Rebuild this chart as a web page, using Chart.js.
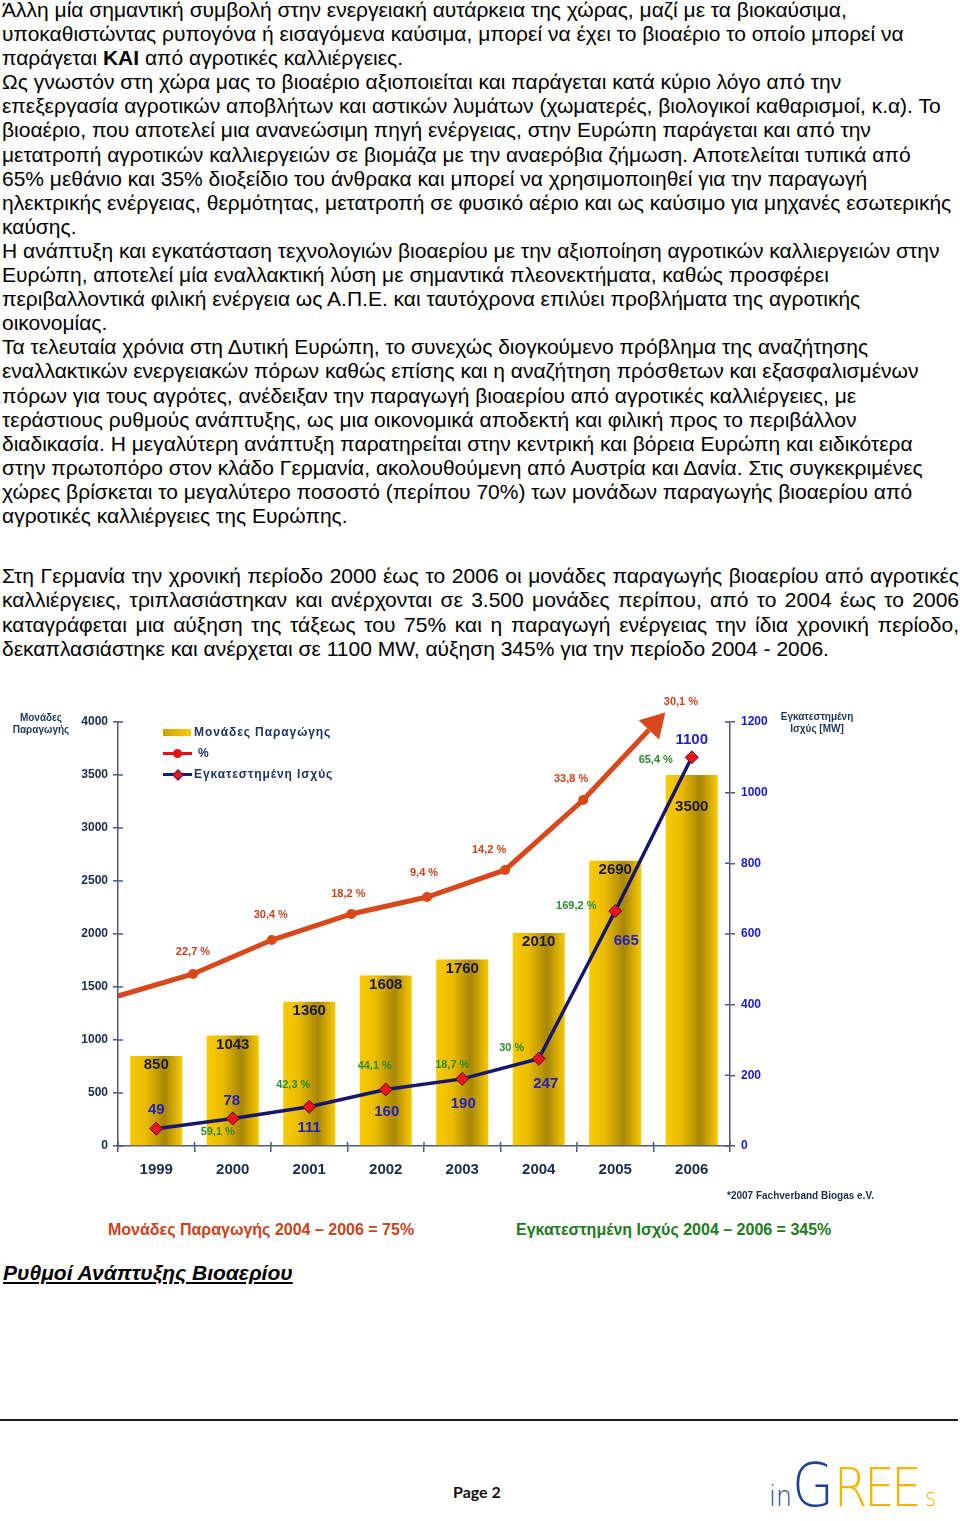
<!DOCTYPE html>
<html lang="el">
<head>
<meta charset="utf-8">
<title>Ρυθμοί Ανάπτυξης Βιοαερίου</title>
<script src="https://cdn.jsdelivr.net/npm/chart.js@4.4.1/dist/chart.umd.min.js"></script>
<style>
  html, body { margin: 0; padding: 0; background: #fff; }
  body { width: 960px; height: 1521px; position: relative; overflow: hidden;
         font-family: "Liberation Sans", Arial, sans-serif; color: #000; }
  .abs { position: absolute; white-space: nowrap; }
  #text1 { left: 2px; top: -2px; font-size: 21px; line-height: 24.1px; }
  #text2 { position: absolute; left: 2px; top: 564px; width: 957px; font-size: 21px; line-height: 24.3px; }
  #text2 div { white-space: nowrap; text-align: justify; text-align-last: justify; }
  #text2 div:last-child { text-align-last: left; }
  #chart { position: absolute; left: 0; top: 690px; width: 960px; height: 520px; }
  .axis-title { font-size: 10px; font-weight: bold; color: #1c3458; text-align: center; line-height: 12px; }
  .lg-txt { font-size: 12px; font-weight: bold; color: #1c3462; letter-spacing: 0.9px; line-height: 14px; }
  .narrow { font-family: "Liberation Sans Narrow", "Arial Narrow", "Liberation Sans", sans-serif; font-weight: bold; }
</style>
</head>
<body>

<div id="text1" class="abs">
<div>Άλλη μία σημαντική συμβολή στην ενεργειακή αυτάρκεια της χώρας, μαζί με τα βιοκαύσιμα,</div>
<div>υποκαθιστώντας ρυπογόνα ή εισαγόμενα καύσιμα, μπορεί να έχει το βιοαέριο το οποίο μπορεί να</div>
<div>παράγεται <b>ΚΑΙ</b> από αγροτικές καλλιέργειες.</div>
<div>Ως γνωστόν στη χώρα μας το βιοαέριο αξιοποιείται και παράγεται κατά κύριο λόγο από την</div>
<div>επεξεργασία αγροτικών αποβλήτων και αστικών λυμάτων (χωματερές, βιολογικοί καθαρισμοί, κ.α). Το</div>
<div>βιοαέριο, που αποτελεί μια ανανεώσιμη πηγή ενέργειας, στην Ευρώπη παράγεται και από την</div>
<div>μετατροπή αγροτικών καλλιεργειών σε βιομάζα με την αναερόβια ζήμωση. Αποτελείται τυπικά από</div>
<div>65% μεθάνιο και 35% διοξείδιο του άνθρακα και μπορεί να χρησιμοποιηθεί για την παραγωγή</div>
<div>ηλεκτρικής ενέργειας, θερμότητας, μετατροπή σε φυσικό αέριο και ως καύσιμο για μηχανές εσωτερικής</div>
<div>καύσης.</div>
<div>Η ανάπτυξη και εγκατάσταση τεχνολογιών βιοαερίου με την αξιοποίηση αγροτικών καλλιεργειών στην</div>
<div>Ευρώπη, αποτελεί μία εναλλακτική λύση με σημαντικά πλεονεκτήματα, καθώς προσφέρει</div>
<div>περιβαλλοντικά φιλική ενέργεια ως Α.Π.Ε. και ταυτόχρονα επιλύει προβλήματα της αγροτικής</div>
<div>οικονομίας.</div>
<div>Τα τελευταία χρόνια στη Δυτική Ευρώπη, το συνεχώς διογκούμενο πρόβλημα της αναζήτησης</div>
<div>εναλλακτικών ενεργειακών πόρων καθώς επίσης και η αναζήτηση πρόσθετων και εξασφαλισμένων</div>
<div>πόρων για τους αγρότες, ανέδειξαν την παραγωγή βιοαερίου από αγροτικές καλλιέργειες, με</div>
<div>τεράστιους ρυθμούς ανάπτυξης, ως μια οικονομικά αποδεκτή και φιλική προς το περιβάλλον</div>
<div>διαδικασία. Η μεγαλύτερη ανάπτυξη παρατηρείται στην κεντρική και βόρεια Ευρώπη και ειδικότερα</div>
<div>στην πρωτοπόρο στον κλάδο Γερμανία, ακολουθούμενη από Αυστρία και Δανία. Στις συγκεκριμένες</div>
<div>χώρες βρίσκεται το μεγαλύτερο ποσοστό (περίπου 70%) των μονάδων παραγωγής βιοαερίου από</div>
<div>αγροτικές καλλιέργειες της Ευρώπης.</div>
</div>

<div id="text2">
<div>Στη Γερμανία την χρονική περίοδο 2000 έως το 2006 οι μονάδες παραγωγής βιοαερίου από αγροτικές</div>
<div>καλλιέργειες, τριπλασιάστηκαν και ανέρχονται σε 3.500 μονάδες περίπου, από το 2004 έως το 2006</div>
<div>καταγράφεται μια αύξηση της τάξεως του 75% και η παραγωγή ενέργειας την ίδια χρονική περίοδο,</div>
<div>δεκαπλασιάστηκε και ανέρχεται σε 1100 MW, αύξηση 345% για την περίοδο 2004 - 2006.</div>
</div>

<canvas id="chart" width="960" height="520"></canvas>

<!-- axis titles -->
<div class="abs axis-title" style="left:10px; top:712px; width:62px;">Μονάδες<br>Παραγωγής</div>
<div class="abs axis-title" style="left:772px; top:711px; width:90px;">Εγκατεστημένη<br>Ισχύς [MW]</div>

<!-- legend -->
<div class="abs" style="left:163px; top:729px; width:28px; height:7px; background:linear-gradient(to right,#c9a000,#e2b800 50%,#f6cc10);"></div>
<div class="abs lg-txt" style="left:194px; top:725px;">Μονάδες Παραγώγης</div>
<div class="abs" style="left:163px; top:752px; width:29px; height:3px; background:#e41212;"></div>
<div class="abs" style="left:173px; top:749px; width:9px; height:9px; border-radius:50%; background:#e41212;"></div>
<div class="abs lg-txt" style="left:198px; top:746px;">%</div>
<div class="abs" style="left:163px; top:773px; width:29px; height:3px; background:#1a1a70;"></div>
<div class="abs" style="left:174px; top:771px; width:6px; height:6px; transform:rotate(45deg); background:#e01830; border:1px solid #701030;"></div>
<div class="abs lg-txt" style="left:194px; top:767px;">Εγκατεστημένη Ισχύς</div>

<div class="abs" style="left:727px; top:1190px; font-size:10px; font-weight:bold; color:#1c2b4a;">*2007 Fachverband Biogas e.V.</div>

<div class="abs narrow" style="left:108px; top:1221px; font-size:16px; color:#c8441c;">Μονάδες Παραγωγής 2004 – 2006 = 75%</div>
<div class="abs narrow" style="left:516px; top:1221px; font-size:16px; color:#1e7a1e;">Εγκατεστημένη Ισχύς 2004 – 2006 = 345%</div>
<div class="abs narrow" style="left:3px; top:1261px; font-size:21px; font-style:italic; text-decoration:underline; color:#000;">Ρυθμοί Ανάπτυξης Βιοαερίου</div>

<div class="abs" style="left:0; top:1419px; width:958px; height:2px; background:#1e1e1e;"></div>
<div class="abs" style="left:453px; top:1482px; font-family:Lato, 'Open Sans', sans-serif; font-weight:bold; font-size:16px; color:#111;">Page 2</div>

<div class="abs" style="left:769px; top:1452px; font-family:'DejaVu Sans', sans-serif; font-weight:200; line-height:66px; transform:scaleX(0.9); transform-origin:left top;">
  <span style="font-size:28px; color:#1d3f98;">in</span><span style="font-size:60px; color:#1d3f98;">G</span><span style="font-size:54px; color:#f2b705; letter-spacing:-4px;">REE</span><span style="font-size:24px; color:#f2b705;"> s</span>
</div>

<script>
const years = ['1999', '2000', '2001', '2002', '2003', '2004', '2005', '2006'];
const productionUnits = [850, 1043, 1360, 1608, 1760, 2010, 2690, 3500];
const installedMW = [49, 78, 111, 160, 190, 247, 665, 1100];
const unitsGrowthPct = [22.7, 30.4, 18.2, 9.4, 14.2, 33.8, 30.1];
const capacityGrowthPct = [59.1, 42.3, 44.1, 18.7, 30, 169.2, 65.4];
const unitTicks = [0, 500, 1000, 1500, 2000, 2500, 3000, 3500, 4000];
const mwTicks = [0, 200, 400, 600, 800, 1000, 1200];
// the red growth arrow
// (x in category steps, y in units of the left axis)
const arrowX = [-0.5, 0.48, 1.51, 2.55, 3.54, 4.56, 5.58, 6.44];
const arrowY = [1415, 1623, 1943, 2189, 2349, 2604, 3264, 3925];

Chart.defaults.font.family = '"Liberation Sans", Arial, sans-serif';
const axisColor = '#4a5a78';
const fontStack = '"Liberation Sans", Arial, sans-serif';

// label offsets from their points, px
const mwLabelOffsets = [[0, -19], [-1, -18], [0, 21], [1, 22], [1, 25], [7, 25], [11, 30], [0, -17]];
const mwPctOffsets = [[-15, 14], [-16, -22], [-11, -23], [-10, -14], [-27, -11], [-39, -5], [-36, 3]];
const unitPctOffsets = [[0, -22], [-1, -25], [-3, -20], [-3, -24], [-16, -20], [-12, -21], [32, -28]];

const fmtPct = v => String(v).replace('.', ',') + ' %';

function barGradient(ctx) {
  const chart = ctx.chart;
  const xs = chart.scales.x;
  const fallback = '#e0b400';
  if (!xs || ctx.type !== 'data') return fallback;
  const cx = xs.getPixelForValue(ctx.dataIndex);
  const half = xs.width / years.length * 0.68 / 2;
  if (!isFinite(cx) || !isFinite(half) || half <= 0) return fallback;
  const g = chart.ctx.createLinearGradient(cx - half, 0, cx + half, 0);
  g.addColorStop(0, '#f8cb00');
  g.addColorStop(0.3, '#ebbc00');
  g.addColorStop(0.66, '#a88608');
  g.addColorStop(0.9, '#e2b600');
  g.addColorStop(1, '#f7c900');
  return g;
}

const innerTicks = {
  id: 'innerTicks',
  afterDraw(chart) {
    const { ctx, chartArea, scales } = chart;
    ctx.save();
    ctx.strokeStyle = axisColor;
    ctx.lineWidth = 1.5;
    ctx.beginPath();
    scales.y.ticks.forEach(t => {
      const py = scales.y.getPixelForValue(t.value);
      ctx.moveTo(chartArea.left, py); ctx.lineTo(chartArea.left + 5, py);
    });
    scales.y2.ticks.forEach(t => {
      const py = scales.y2.getPixelForValue(t.value);
      ctx.moveTo(chartArea.right, py); ctx.lineTo(chartArea.right - 5, py);
    });
    for (let i = 0; i <= years.length; i++) {
      const px = scales.x.getPixelForValue(i - 0.5);
      ctx.moveTo(px, chartArea.bottom); ctx.lineTo(px, chartArea.bottom - 4);
    }
    ctx.stroke();
    ctx.restore();
  }
};

const arrowHead = {
  id: 'arrowHead',
  afterDatasetsDraw(chart) {
    const pts = chart.getDatasetMeta(2).data;
    const a = pts[pts.length - 2], b = pts[pts.length - 1];
    const dx = b.x - a.x, dy = b.y - a.y, len = Math.hypot(dx, dy);
    const ux = dx / len, uy = dy / len;
    const c = chart.ctx;
    c.save();
    c.fillStyle = '#d8481a';
    c.beginPath();
    c.moveTo(b.x + ux * 24, b.y + uy * 24);
    c.lineTo(b.x - uy * 14, b.y + ux * 14);
    c.lineTo(b.x + uy * 14, b.y - ux * 14);
    c.closePath();
    c.fill();
    c.restore();
  }
};

const valueLabels = {
  id: 'valueLabels',
  afterDatasetsDraw(chart) {
    const c = chart.ctx;
    const bars = chart.getDatasetMeta(0).data;
    const mw = chart.getDatasetMeta(1).data;
    const arrow = chart.getDatasetMeta(2).data;
    c.save();
    c.textAlign = 'center';
    c.textBaseline = 'middle';
    c.font = 'bold 15px ' + fontStack;
    c.fillStyle = '#1a1a40';
    bars.forEach((b, i) => {
      c.fillText(String(productionUnits[i]), b.x, b.y + (i === bars.length - 1 ? 32 : 9));
    });
    c.fillStyle = '#2222b8';
    mw.forEach((p, i) => {
      const o = mwLabelOffsets[i];
      c.fillText(String(installedMW[i]), p.x + o[0], p.y + o[1]);
    });
    c.font = 'bold 11px ' + fontStack;
    c.fillStyle = '#c8441c';
    unitsGrowthPct.forEach((v, i) => {
      const p = arrow[i + 1], o = unitPctOffsets[i];
      c.fillText(fmtPct(v), p.x + o[0], p.y + o[1]);
    });
    c.fillStyle = '#2e8a2e';
    capacityGrowthPct.forEach((v, i) => {
      const p = mw[i + 1], o = mwPctOffsets[i];
      c.fillText(fmtPct(v), p.x + o[0], p.y + o[1]);
    });
    c.restore();
  }
};

new Chart(document.getElementById('chart'), {
  type: 'bar',
  data: {
    labels: years,
    datasets: [{
      label: 'Μονάδες Παραγώγης',
      data: productionUnits,
      backgroundColor: barGradient,
      barPercentage: 0.68,
      categoryPercentage: 1,
      grouped: false,
      yAxisID: 'y',
      order: 10,
    }, {
      type: 'line',
      label: 'Εγκατεστημένη Ισχύς',
      data: installedMW,
      yAxisID: 'y2',
      borderColor: '#16166e',
      borderWidth: 3.5,
      pointStyle: 'rectRot',
      pointRadius: 6.5,
      pointBackgroundColor: '#e8141e',
      pointBorderColor: '#5a0c22',
      pointBorderWidth: 1,
      tension: 0,
      order: 1,
    }, {
      type: 'line',
      label: '%',
      data: arrowX.map((x, i) => ({ x, y: arrowY[i] })),
      xAxisID: 'xArrow',
      yAxisID: 'y',
      borderColor: '#d8481a',
      borderWidth: 5,
      pointRadius: ctx => (ctx.dataIndex === 0 || ctx.dataIndex === arrowX.length - 1) ? 0 : 5,
      pointBackgroundColor: '#d8481a',
      pointBorderWidth: 0,
      tension: 0,
      clip: false,
      order: 2,
    }],
  },
  options: {
    responsive: false,
    animation: false,
    events: [],
    layout: { padding: { top: 32, right: 170, bottom: 24, left: 0 } },
    plugins: { legend: { display: false }, tooltip: { enabled: false } },
    scales: {
      x: {
        afterFit(s) { s.height = 40; },
        grid: { drawOnChartArea: false, offset: true, tickLength: 6, color: axisColor, lineWidth: 1.5 },
        border: { color: axisColor, width: 1.5 },
        ticks: { color: '#1c2b4a', font: { size: 15, weight: 'bold' }, padding: 9 },
      },
      xArrow: { type: 'linear', display: false, offset: false, bounds: 'data', min: -0.5, max: 7.5,
                grid: { offset: false },
                afterBuildTicks(s) { s.ticks = [{ value: -0.5 }, { value: 7.5 }]; } },
      y: {
        position: 'left',
        min: 0, max: 4000,
        afterFit(s) { s.width = 118; },
        afterBuildTicks(s) { s.ticks = unitTicks.map(v => ({ value: v })); },
        grid: { drawOnChartArea: false, tickLength: 5, color: axisColor, lineWidth: 1.5 },
        border: { color: axisColor, width: 1.5 },
        ticks: { color: '#1c2b4a', font: { size: 12, weight: 'bold' }, padding: 5, callback: v => String(v) },
      },
      y2: {
        position: 'right',
        min: 0, max: 1200,
        afterFit(s) { s.width = 60; },
        afterBuildTicks(s) { s.ticks = mwTicks.map(v => ({ value: v })); },
        grid: { drawOnChartArea: false, tickLength: 5, color: axisColor, lineWidth: 1.5 },
        border: { color: axisColor, width: 1.5 },
        ticks: { color: '#1a1acc', font: { size: 12, weight: 'bold' }, padding: 6, callback: v => String(v) },
      },
    },
  },
  plugins: [innerTicks, arrowHead, valueLabels],
});
</script>
</body>
</html>
